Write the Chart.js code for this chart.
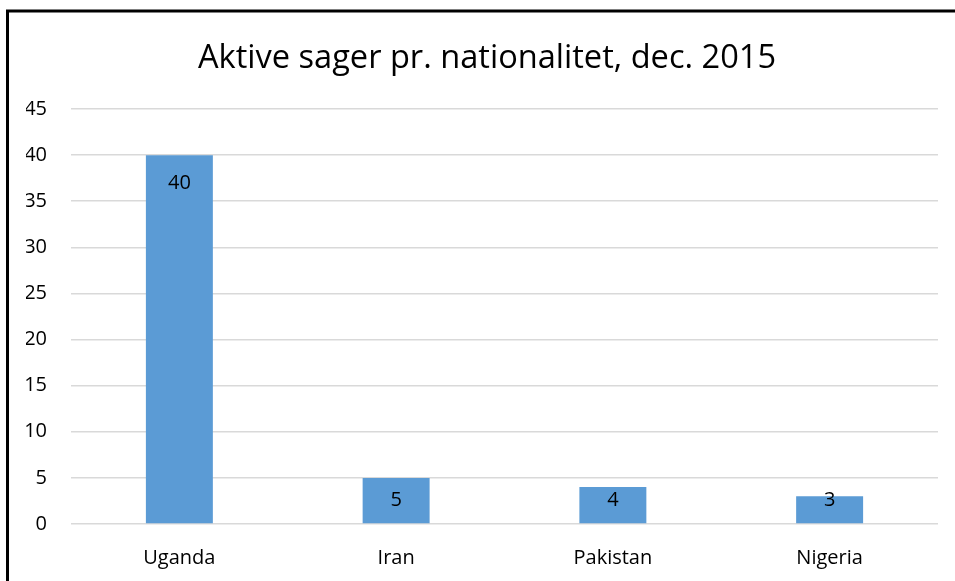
<!DOCTYPE html>
<html>
<head>
<meta charset="utf-8">
<script src="https://cdn.jsdelivr.net/npm/chart.js@4/dist/chart.umd.min.js"></script>
<style>
  html, body { margin: 0; padding: 0; background: #fff; }
  #wrap { position: relative; width: 955px; height: 581px; }
</style>
</head>
<body>
<div id="wrap"><canvas id="c" width="955" height="581"></canvas></div>
<script>
const categories = ["Uganda", "Iran", "Pakistan", "Nigeria"];
const values = [40, 5, 4, 3];
const yTicks = [0, 5, 10, 15, 20, 25, 30, 35, 40, 45];
const titleText = "Aktive sager pr. nationalitet, dec. 2015";

const FONT = "'Open Sans', 'DejaVu Sans', sans-serif";

const frame = {
  id: 'frame',
  afterDraw(chart) {
    const ctx = chart.ctx;
    ctx.save();
    ctx.strokeStyle = '#000';
    ctx.lineWidth = 3;
    ctx.beginPath();
    ctx.moveTo(7.5, 581);
    ctx.lineTo(7.5, 11);
    ctx.lineTo(955, 11);
    ctx.stroke();
    ctx.restore();
  }
};

const dataLabels = {
  id: 'dataLabels',
  afterDatasetsDraw(chart) {
    const ctx = chart.ctx;
    const meta = chart.getDatasetMeta(0);
    ctx.save();
    ctx.font = "20px " + FONT;
    ctx.fillStyle = '#000';
    ctx.textAlign = 'center';
    ctx.textBaseline = 'middle';
    meta.data.forEach((bar, i) => {
      const y = Math.min(bar.y + 28.5, bar.base - 23);
      ctx.fillText(String(values[i]), bar.x, y);
    });
    ctx.restore();
  }
};

new Chart(document.getElementById('c'), {
  type: 'bar',
  data: {
    labels: categories,
    datasets: [{
      data: values,
      backgroundColor: '#5b9bd5',
      borderWidth: 0,
      categoryPercentage: 1,
      barPercentage: 0.309
    }]
  },
  options: {
    responsive: false,
    animation: false,
    layout: { padding: { left: 26, right: 7, top: 0, bottom: 11 } },
    plugins: {
      legend: { display: false },
      tooltip: { enabled: false },
      title: {
        display: true,
        text: titleText,
        color: '#000',
        font: { family: FONT, size: 32.6, weight: 'normal' },
        padding: { top: 39, bottom: 30.9 }
      }
    },
    scales: {
      x: {
        afterFit(scale) { scale.height = 46; },
        grid: { display: false, drawTicks: false },
        border: { display: false },
        ticks: { color: '#000', font: { family: FONT, size: 20 }, padding: 22 }
      },
      y: {
        min: 0,
        max: 45,
        afterFit(scale) { scale.width = 45; },
        afterBuildTicks(scale) { scale.ticks = yTicks.map(v => ({ value: v })); },
        grid: { color: '#d9d9d9', lineWidth: 1.5, drawTicks: false },
        border: { display: false },
        ticks: { color: '#000', font: { family: FONT, size: 20 }, padding: 24, stepSize: 5 }
      },
      yRight: {
        position: 'right',
        min: 0,
        max: 45,
        afterFit(scale) { scale.width = 10; },
        grid: { display: false, drawTicks: false },
        border: { display: false },
        ticks: { display: false }
      }
    }
  },
  plugins: [frame, dataLabels]
});
</script>
</body>
</html>
